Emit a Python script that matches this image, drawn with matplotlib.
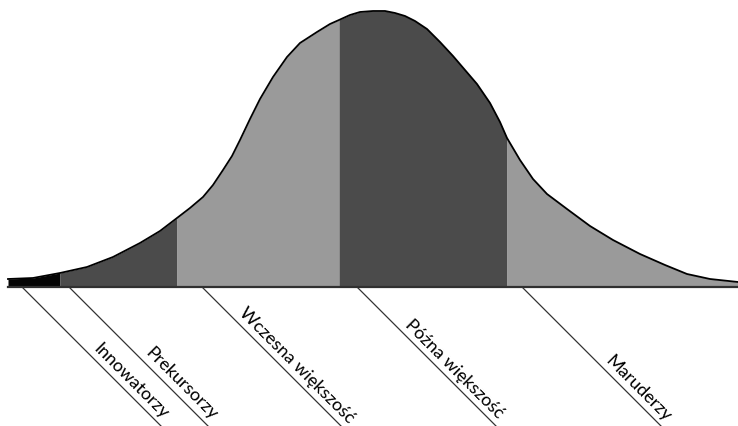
import numpy as np
import matplotlib.pyplot as plt

# curve: x position and height above the baseline
curve_x = [8, 33, 60, 87, 113, 140, 160, 177, 190, 203, 213, 223, 232, 240, 250,
           260, 273, 287, 300, 317, 330, 339, 350, 360, 373, 385, 395, 405, 415,
           427, 440, 453, 465, 477, 490, 500, 507, 520, 533, 547, 567, 590, 613,
           640, 665, 687, 710, 738]
curve_h = [8, 9, 14, 20, 30, 44, 56, 69, 79, 90, 102, 117, 131, 147, 168,
           188, 210, 230, 244, 255, 263, 267, 272, 275, 276, 276, 274, 271, 266,
           258, 245, 231, 217, 203, 184, 165, 149, 127, 108, 93, 78, 61, 47,
           33, 22, 13, 8, 5]

# segment boundaries (x) and labels
bounds = [8, 60, 177, 339, 507, 738]
seg_colors = ["#050505", "#4b4b4b", "#9a9a9a", "#4b4b4b", "#9a9a9a"]
labels = ["Innowatorzy", "Prekursorzy", "Wczesna większość", "Późna większość", "Maruderzy"]
leader_x = [23, 70, 203, 358, 523]
label_d = [66, 71, 31, 43, 78]

x = np.array(curve_x)
h = np.array(curve_h)

fig = plt.figure(figsize=(7.38, 4.26), dpi=100)
ax = fig.add_axes([0, 0, 1, 1])
ax.set_xlim(0, 738)
ax.set_ylim(-139, 287)
ax.axis("off")

# filled segments
for i in range(len(seg_colors)):
    i0 = curve_x.index(bounds[i])
    i1 = curve_x.index(bounds[i + 1])
    ax.fill_between(x[i0:i1 + 1], 0, h[i0:i1 + 1], color=seg_colors[i], lw=0)

# outline and baseline
ax.plot(x, h, color="black", lw=1.3, solid_joinstyle="round")
ax.plot([8, 738], [0, 0], color="#303030", lw=1.6)

# leader lines and labels
for lx, d, lab in zip(leader_x, label_d, labels):
    ax.plot([lx, lx + 200], [-1, -201], color="#333333", lw=0.9)
    ax.text(lx + d + 1.5, -d + 1.5, lab, rotation=-45, rotation_mode="anchor",
            ha="left", va="bottom", fontsize=13, family="Lato", color="black")

fig.savefig("out.png", dpi=100)
